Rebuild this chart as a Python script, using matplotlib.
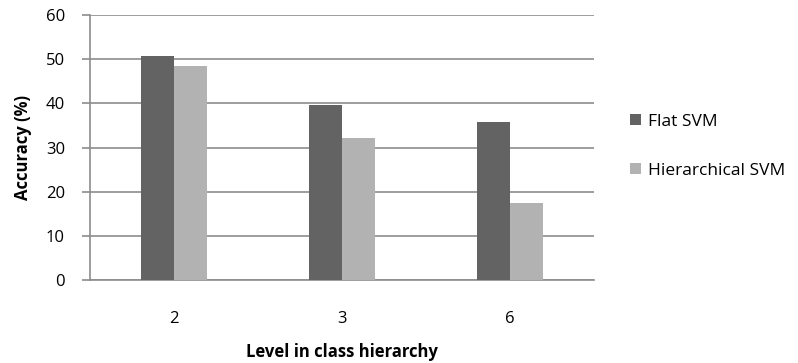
import matplotlib.pyplot as plt
import numpy as np

levels = ["2", "3", "6"]
flat_svm = [50.7, 39.6, 35.8]
hier_svm = [48.4, 32.2, 17.4]

plt.rcParams["font.family"] = ["Open Sans", "DejaVu Sans"]

fig = plt.figure(figsize=(7.98, 3.63), dpi=100)
ax = fig.add_axes([90 / 798, 1 - 280 / 363, 504 / 798, 265 / 363])

x = np.arange(len(levels))
width = 0.196
ax.bar(x - width / 2, flat_svm, width, color="#636363", label="Flat SVM", zorder=3)
ax.bar(x + width / 2, hier_svm, width, color="#b2b2b2", label="Hierarchical SVM", zorder=3)

ax.set_xlim(-0.5, 2.5)
ax.set_ylim(0, 60)
ax.set_yticks(range(0, 61, 10))
ax.set_xticks(x)
ax.set_xticklabels(levels)

ax.grid(axis="y", color="#8c8c8c", linewidth=1.2, zorder=0)
for side in ["top", "right"]:
    ax.spines[side].set_visible(False)
ax.spines["left"].set_color("#8c8c8c")
ax.spines["bottom"].set_color("#8c8c8c")
ax.spines["left"].set_linewidth(1.2)
ax.spines["bottom"].set_linewidth(1.2)

ax.tick_params(axis="y", length=6, width=1.2, color="#8c8c8c", labelsize=12, pad=12)
ax.tick_params(axis="x", length=0, labelsize=12, pad=22)

ax.set_xlabel("Level in class hierarchy", fontsize=12, fontweight="bold", labelpad=12)
ax.set_ylabel("Accuracy (%)", fontsize=12, fontweight="bold", labelpad=10)

ax.legend(loc="center left", bbox_to_anchor=(1.04, 0.505), frameon=False,
          fontsize=12.5, handlelength=0.65, handleheight=0.65, labelspacing=1.9,
          handletextpad=0.4)

fig.savefig("out.png", dpi=100)
